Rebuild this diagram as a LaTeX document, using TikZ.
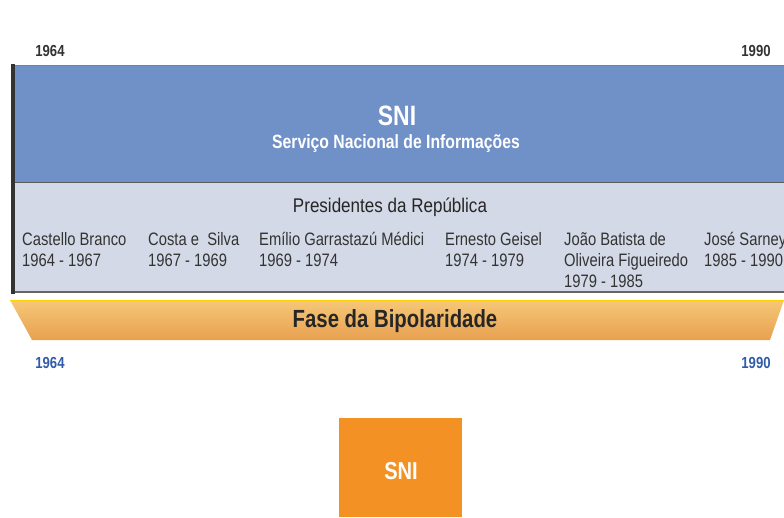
\documentclass[tikz,border=0pt]{standalone}
\usepackage{fontspec}
\setmainfont{Liberation Sans}[FakeStretch=0.82]
\newfontfamily\presfont{Liberation Sans}[FakeStretch=0.86]
\definecolor{snblue}{HTML}{7090C8}
\definecolor{snlight}{HTML}{D3D9E6}
\definecolor{sndark}{HTML}{333333}
\definecolor{yrblue}{HTML}{2F5BA8}
\definecolor{bandtop}{HTML}{F5C878}
\definecolor{bandbot}{HTML}{E8A050}
\definecolor{snorange}{HTML}{F39125}
\begin{document}
\begin{tikzpicture}[x=1pt,y=-1pt,
  yr/.style={inner sep=0pt,anchor=base,font=\bfseries\fontsize{16}{16}\selectfont,text=sndark},
  yrb/.style={yr,text=yrblue},
  pres/.style={inner sep=0pt,anchor=base west,align=left,font=\fontsize{18}{21}\selectfont,text=sndark},
]
\useasboundingbox (0,0) rectangle (784,517);
% blue and light sections
\fill[snblue] (13,65) rectangle (784,182);
\fill[snlight] (13,182) rectangle (784,292);
\draw[gray,line width=1pt] (13,65.5) -- (784,65.5);
\draw[sndark!80,line width=1pt] (13,182) -- (784,182);
\draw[gray!80!black,line width=1.5pt] (13,292) -- (784,292);
\draw[sndark,line width=4pt] (13,64) -- (13,293.5);
% orange band
\shade[top color=bandtop,bottom color=bandbot] (10,300) -- (784,300) -- (770,340) -- (32,340) -- cycle;
\draw[yellow!70!orange,line width=0.8pt] (10,300.4) -- (784,300.4);
% orange box
\fill[snorange] (339,418) rectangle (462,517);
% texts
\node[yr] (y1) at (50,56) {1964};
\node[yr] (y2) at (756,56) {1990};
\node[yrb] (y3) at (50,368) {1964};
\node[yrb] (y4) at (756,368) {1990};
\node[inner sep=0pt,anchor=base,text=white,font=\bfseries\fontsize{28}{28}\selectfont] (sni) at (397,125) {SNI};
\node[inner sep=0pt,anchor=base,text=white,font=\bfseries\fontsize{19.2}{19.2}\selectfont] (sub) at (396,148) {Serviço Nacional de Informações};
\node[inner sep=0pt,anchor=base,text=black!85,font=\presfont\fontsize{19.8}{19.8}\selectfont] (pr) at (390,212) {Presidentes da República};
\node[pres] (p1) at (22,266) {Castello Branco\\1964 - 1967};
\node[pres] (p2) at (148,266) {Costa e\ \ Silva\\1967 - 1969};
\node[pres] (p3) at (259,266) {Emílio Garrastazú Médici\\1969 - 1974};
\node[pres] (p4) at (445,266) {Ernesto Geisel\\1974 - 1979};
\node[pres] (p5) at (564,287) {João Batista de\\Oliveira Figueiredo\\1979 - 1985};
\node[pres] (p6) at (704,266) {José Sarney\\1985 - 1990};
\node[inner sep=0pt,anchor=base,text=black!85,font=\bfseries\fontsize{24.8}{24.8}\selectfont] (fase) at (395,327) {Fase da Bipolaridade};
\node[inner sep=0pt,anchor=base,text=white,font=\bfseries\fontsize{24.5}{24.5}\selectfont] (sni2) at (401,479) {SNI};
\end{tikzpicture}
\end{document}
